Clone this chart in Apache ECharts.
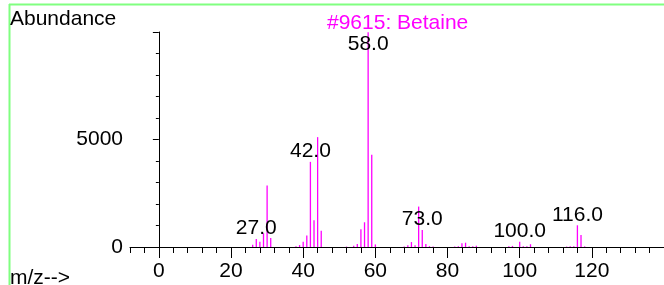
<!DOCTYPE html>
<html>
<head>
<meta charset="utf-8">
<title>#9615: Betaine</title>
<script src="https://cdn.jsdelivr.net/npm/echarts@6/dist/echarts.min.js"></script>
<style>
  html, body { margin: 0; padding: 0; background: #fff; }
  #chart { width: 664px; height: 285px; }
</style>
</head>
<body>
<div id="chart"></div>
<script>
// mass spectrum of betaine
var mz = [26, 27, 28, 29, 30, 31,
          38, 39, 40, 41, 42, 43, 44, 45,
          52, 54, 55, 56, 57, 58, 59, 60,
          68, 69, 70, 71, 72, 73, 74, 75, 76,
          82, 83, 84, 85, 86, 87, 88,
          97, 98, 100, 101, 102, 103,
          113, 114, 115, 116, 117, 118];
var abundance = [100, 370, 250, 640, 2860, 420,
                 30, 90, 250, 530, 3960, 1250, 5110, 760,
                 20, 60, 140, 820, 1150, 9990, 4290, 120,
                 20, 80, 230, 80, 1880, 790, 140, 40, 20,
                 20, 30, 170, 200, 40, 30, 60,
                 30, 50, 250, 30, 30, 130,
                 20, 30, 30, 1010, 560, 30];
// peaks that carry an m/z label
var labelledPeaks = [27, 42, 58, 73, 100, 116];
var xMajorTicks = [0, 20, 40, 60, 80, 100, 120];
var yLabelTicks = [0, 5000];

var FONT = '"Liberation Sans", Arial, sans-serif';
var MAGENTA = '#ff00ff';
var GREEN = '#80ff80';

var chart = echarts.init(document.getElementById('chart'));

var peaks = mz.map(function (m, i) {
  var item = { value: [m, abundance[i]] };
  if (labelledPeaks.indexOf(m) >= 0) {
    item.label = { show: true };
    // the base peak touches the top of the frame, label goes inside
    if (abundance[i] > 9000) {
      item.label.position = 'insideTop';
      item.label.distance = 1;
    }
  }
  return item;
});

var option = {
  animation: false,
  backgroundColor: '#fff',
  title: {
    text: '#9615: Betaine',
    left: 322,
    top: 8,
    textStyle: { color: MAGENTA, fontSize: 21, fontWeight: 'normal', fontFamily: FONT }
  },
  grid: { left: 130, right: -7, top: 32, bottom: 38, containLabel: false },
  xAxis: [
    {
      type: 'value',
      min: -8,
      max: 140,
      interval: 4,
      axisLine: { lineStyle: { color: '#000', width: 1 } },
      axisTick: { length: 6, lineStyle: { color: '#000' } },
      axisLabel: { show: false },
      splitLine: { show: false }
    },
    {
      type: 'value',
      min: -8,
      max: 140,
      position: 'bottom',
      axisLine: { show: false },
      axisTick: { customValues: xMajorTicks, length: 11, lineStyle: { color: '#000' } },
      axisLabel: {
        customValues: xMajorTicks,
        margin: 14,
        color: '#000',
        fontSize: 21,
        fontFamily: FONT
      },
      splitLine: { show: false }
    }
  ],
  yAxis: {
    type: 'value',
    min: 0,
    max: 10000,
    interval: 5000,
    axisLine: { show: true, lineStyle: { color: '#000', width: 1 } },
    axisTick: { show: true, length: 6, lineStyle: { color: '#000' } },
    minorTick: { show: true, splitNumber: 5, length: 3, lineStyle: { color: '#000' } },
    axisLabel: {
      customValues: yLabelTicks,
      margin: 7,
      color: '#000',
      fontSize: 21,
      fontFamily: FONT,
      formatter: function (v) { return String(v); }
    },
    splitLine: { show: false }
  },
  graphic: [
    { type: 'line', shape: { x1: 9, y1: 4.5, x2: 664, y2: 4.5 }, style: { stroke: GREEN, lineWidth: 2 }, silent: true },
    { type: 'line', shape: { x1: 9.5, y1: 4, x2: 9.5, y2: 285 }, style: { stroke: GREEN, lineWidth: 2 }, silent: true },
    { type: 'text', left: 10, top: 9, style: { text: 'Abundance', fill: '#000', font: '21px ' + FONT } },
    { type: 'text', left: 10, top: 268, style: { text: 'm/z-->', fill: '#000', font: '21px ' + FONT } }
  ],
  series: [
    {
      type: 'bar',
      xAxisIndex: 0,
      barWidth: 1.3,
      itemStyle: { color: MAGENTA },
      label: {
        show: false,
        position: 'top',
        distance: 0,
        color: '#000',
        fontSize: 21,
        fontFamily: FONT,
        formatter: function (p) { return p.value[0].toFixed(1); }
      },
      data: peaks
    }
  ]
};

chart.setOption(option);
</script>
</body>
</html>
